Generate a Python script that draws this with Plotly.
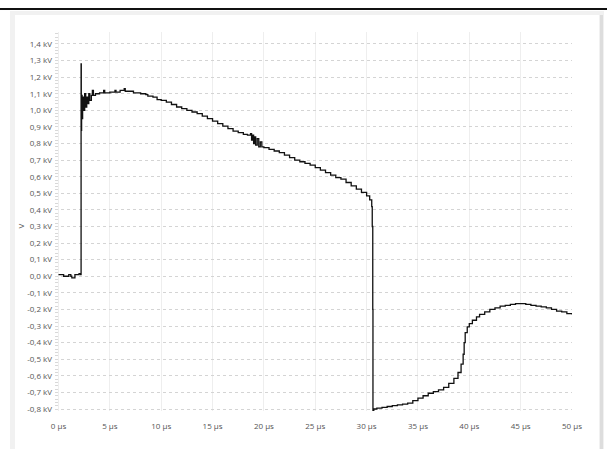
import plotly.graph_objects as go

# ---- data ----
t_us = [0.0, 0.4, 0.5, 0.9, 1.0, 1.2, 1.3, 1.6, 1.7, 2.0, 2.15,
        2.2, 2.22, 2.25, 2.3, 2.35, 2.45, 2.55, 2.65, 2.75, 2.85, 2.95, 3.05, 3.2, 3.3, 3.4,
        3.6, 4.0, 4.4, 4.5, 5.0, 5.5, 5.6, 6.0, 6.4, 6.5, 7.0, 7.3, 8.0, 8.5, 8.7, 9.2, 9.6,
        10.0, 10.5, 11.0, 11.5, 12.0, 12.5, 13.0, 13.5, 14.0, 14.5, 15.0, 15.5, 16.0, 16.5,
        17.0, 17.5, 18.0, 18.4, 18.7, 18.8, 18.9, 19.0, 19.1, 19.2, 19.35, 19.5, 19.65, 19.8,
        20.0, 20.5, 21.0, 21.5, 22.0, 22.5, 23.0, 23.5, 24.0, 24.5, 25.0, 25.5, 26.0, 26.5,
        27.0, 27.5, 28.0, 28.5, 29.0, 29.5, 30.0, 30.3, 30.5, 30.55, 30.6, 30.62,
        30.7, 31.0, 31.5, 32.0, 32.5, 33.0, 33.5, 34.0, 34.5, 35.0, 35.5, 36.0, 36.5, 37.0,
        37.5, 38.0, 38.5, 38.9, 39.2, 39.4, 39.5, 39.6, 39.8, 40.0, 40.3, 40.7, 41.0, 41.5,
        42.0, 42.5, 43.0, 43.5, 44.0, 44.5, 45.0, 45.5, 46.0, 46.5, 47.0, 47.5, 48.0, 48.5,
        49.0, 49.5, 50.0]
v_kv = [0.01, 0.01, 0.0, 0.0, 0.01, 0.0, -0.01, 0.01, 0.01, 0.015, 0.01,
        1.28, 0.88, 1.09, 0.95, 1.08, 1.0, 1.1, 1.02, 1.08, 1.04, 1.1, 1.06, 1.09, 1.12, 1.09,
        1.10, 1.105, 1.12, 1.105, 1.11, 1.12, 1.11, 1.12, 1.13, 1.115, 1.115, 1.105, 1.10, 1.095, 1.085, 1.08, 1.065,
        1.06, 1.05, 1.035, 1.02, 1.01, 1.0, 0.99, 0.98, 0.965, 0.95, 0.935, 0.92, 0.905, 0.89,
        0.875, 0.865, 0.855, 0.85, 0.86, 0.82, 0.85, 0.80, 0.84, 0.79, 0.83, 0.78, 0.81, 0.78,
        0.775, 0.765, 0.755, 0.745, 0.73, 0.715, 0.70, 0.69, 0.68, 0.67, 0.655, 0.64, 0.625, 0.61,
        0.595, 0.585, 0.565, 0.545, 0.525, 0.505, 0.485, 0.46, 0.42, 0.30, -0.2, -0.86,
        -0.80, -0.795, -0.79, -0.785, -0.78, -0.775, -0.77, -0.765, -0.75, -0.735, -0.72, -0.705, -0.695, -0.685,
        -0.67, -0.645, -0.615, -0.58, -0.53, -0.47, -0.40, -0.34, -0.305, -0.285, -0.265, -0.245, -0.23, -0.215,
        -0.2, -0.19, -0.18, -0.175, -0.17, -0.165, -0.165, -0.17, -0.175, -0.18, -0.185, -0.19, -0.2, -0.21,
        -0.215, -0.225, -0.23]

x_tickvals = [0, 5, 10, 15, 20, 25, 30, 35, 40, 45, 50]
x_ticktext = ["0 µs", "5 µs", "10 µs", "15 µs", "20 µs", "25 µs", "30 µs",
              "35 µs", "40 µs", "45 µs", "50 µs"]
y_tickvals = [1.4, 1.3, 1.2, 1.1, 1.0, 0.9, 0.8, 0.7, 0.6, 0.5, 0.4, 0.3, 0.2, 0.1, 0.0,
              -0.1, -0.2, -0.3, -0.4, -0.5, -0.6, -0.7, -0.8]
y_ticktext = ["1,4 kV", "1,3 kV", "1,2 kV", "1,1 kV", "1,0 kV", "0,9 kV", "0,8 kV", "0,7 kV",
              "0,6 kV", "0,5 kV", "0,4 kV", "0,3 kV", "0,2 kV", "0,1 kV", "0,0 kV",
              "-0,1 kV", "-0,2 kV", "-0,3 kV", "-0,4 kV", "-0,5 kV", "-0,6 kV", "-0,7 kV", "-0,8 kV"]

# ---- layout geometry (pixels) ----
WIDTH, HEIGHT = 607, 449
L, R, T, B = 55, 572, 32, 411
PW, PH = R - L, B - T

def px(xp):
    return (xp - L) / PW

def py(yp):
    return (B - yp) / PH

fig = go.Figure()
fig.add_trace(go.Scatter(x=t_us, y=v_kv, mode="lines", line=dict(color="#111111", width=1.3, shape="hv"),
                         hoverinfo="x+y", showlegend=False))

font = dict(family="Open Sans, Noto Sans, sans-serif", size=8, color="#555555")

shapes = [
    # outer light frame
    dict(type="rect", xref="paper", yref="paper", x0=px(10), x1=px(604), y0=py(449), y1=py(11),
         fillcolor="#f1f1f1", line=dict(width=0), layer="below"),
    # inner white panel
    dict(type="rect", xref="paper", yref="paper", x0=px(15), x1=px(599), y0=py(449), y1=py(15),
         fillcolor="#ffffff", line=dict(width=0), layer="below"),
    # right gray bar
    dict(type="rect", xref="paper", yref="paper", x0=px(600), x1=px(603), y0=py(449), y1=py(15),
         fillcolor="#dddddd", line=dict(width=0), layer="below"),
    # top black rule
    dict(type="line", xref="paper", yref="paper", x0=px(0), x1=px(607), y0=py(9), y1=py(9),
         line=dict(color="#111111", width=2)),
]

fig.update_layout(
    width=WIDTH, height=HEIGHT,
    margin=dict(l=L, r=WIDTH - R, t=T, b=HEIGHT - B, pad=0),
    paper_bgcolor="#ffffff", plot_bgcolor="rgba(0,0,0,0)",
    font=font,
    shapes=shapes,
    xaxis=dict(range=[-0.34, 50.0], tickvals=x_tickvals, ticktext=x_ticktext,
               showgrid=True, gridcolor="#eeeeee", gridwidth=1, zeroline=False,
               showline=False, ticks="", ticklabelstandoff=9, tickfont=font,
               fixedrange=True),
    yaxis=dict(range=[-0.812, 1.472], tickvals=y_tickvals, ticktext=y_ticktext,
               showgrid=True, gridcolor="#d4d4d4", griddash="dot", gridwidth=1, zeroline=False,
               showline=False, ticks="", ticklabelstandoff=2, tickfont=font,
               minor=dict(dtick=0.02, ticks="inside", ticklen=3, tickcolor="#d8d8d8", showgrid=False),
               fixedrange=True),
    annotations=[dict(text="V", xref="paper", yref="paper", x=px(12), y=py(226),
                      showarrow=False, textangle=-90, font=font)],
)

fig.write_html("out.html", config={"displayModeBar": False},
               post_script="document.body.style.margin='0';document.body.style.overflow='hidden';")
